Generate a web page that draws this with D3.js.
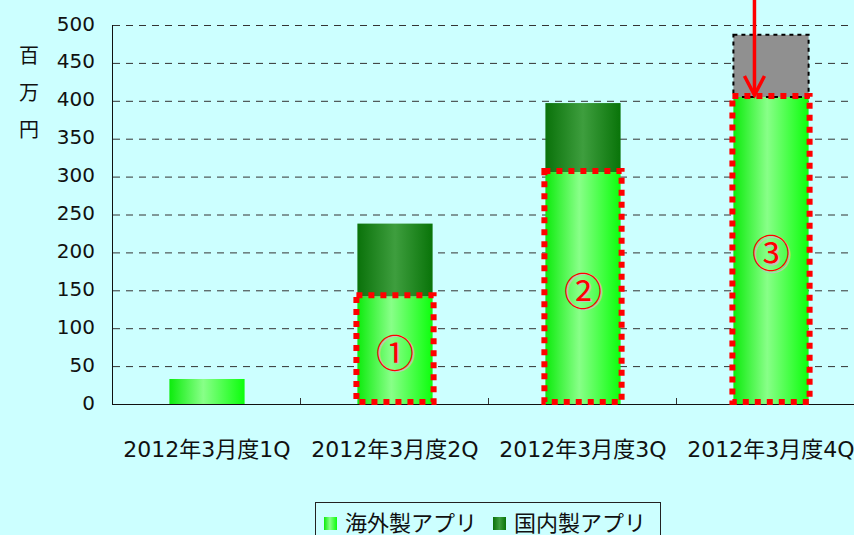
<!DOCTYPE html>
<html>
<head>
<meta charset="utf-8">
<script src="https://cdn.jsdelivr.net/npm/d3@7"></script>
<style>
  body { margin: 0; background: #ccffff; }
  svg { display: block; }
  text { font-family: "DejaVu Sans", "Noto Sans CJK JP", sans-serif; fill: #111; }
</style>
</head>
<body>
<div id="chart"></div>
<script>
var quarters = ['2012年3月度1Q', '2012年3月度2Q', '2012年3月度3Q', '2012年3月度4Q'];
var overseas = [33, 142, 306, 405];   // 海外製アプリ
var domestic = [0, 96, 91, 0];        // 国内製アプリ
var estimate = [0, 0, 0, 82];         // grey dashed box on 4Q
var marks = ['', '①', '②', '③'];
var yTicks = [0, 50, 100, 150, 200, 250, 300, 350, 400, 450, 500];
var seriesNames = ['海外製アプリ', '国内製アプリ'];

var width = 854,
    height = 535,
    svg = d3.select('#chart')
    .append('svg')
    .attr('width', width)
    .attr('height', height);

var defs = svg.append('defs');

function barGradient(id, stops) {
    var g = defs.append('linearGradient')
        .attr('id', id)
        .attr('x1', '0%').attr('x2', '100%')
        .attr('y1', '0%').attr('y2', '0%');
    stops.forEach(function(s) {
        g.append('stop').attr('offset', s[0]).attr('stop-color', s[1]);
    });
}
barGradient('grad-overseas', [['0%', '#0cec0c'], ['45%', '#88ff88'], ['100%', '#0cff0c']]);
barGradient('grad-domestic', [['0%', '#0a720a'], ['50%', '#3e9e3e'], ['100%', '#097409']]);

svg.append('rect')
    .attr('width', width)
    .attr('height', height)
    .attr('fill', '#ccffff');

var x = d3.scaleBand()
    .domain(quarters)
    .range([113, 865])
    .paddingInner(0.6)
    .paddingOuter(0.3);

var y = d3.scaleLinear()
    .domain([0, 500])
    .range([404, 25]);

// gridlines
svg.selectAll('.grid')
    .data(yTicks.slice(1))
    .enter()
    .append('line')
    .attr('class', 'grid')
    .attr('x1', 113)
    .attr('x2', width)
    .attr('y1', function(d) { return y(d) + 0.5; })
    .attr('y2', function(d) { return y(d) + 0.5; })
    .attr('stroke', '#333')
    .attr('stroke-width', 1)
    .attr('stroke-dasharray', '7,6');

// y tick labels
svg.selectAll('.ylab')
    .data(yTicks)
    .enter()
    .append('text')
    .attr('class', 'ylab')
    .attr('x', 95)
    .attr('y', function(d) { return y(d) + 5.5; })
    .attr('text-anchor', 'end')
    .attr('font-size', '20px')
    .text(function(d) { return d; });

// y axis title, stacked vertically
svg.selectAll('.ytitle')
    .data(['百', '万', '円'])
    .enter()
    .append('text')
    .attr('class', 'ytitle')
    .attr('x', 29)
    .attr('y', function(d, i) { return 63 + i * 37; })
    .attr('text-anchor', 'middle')
    .attr('font-size', '20px')
    .text(function(d) { return d; });

// overseas bars
svg.selectAll('.bar-overseas')
    .data(quarters)
    .enter()
    .append('rect')
    .attr('class', 'bar-overseas')
    .attr('x', function(d) { return x(d); })
    .attr('width', x.bandwidth())
    .attr('y', function(d, i) { return y(overseas[i]); })
    .attr('height', function(d, i) { return y(0) - y(overseas[i]); })
    .attr('fill', 'url(#grad-overseas)');

// domestic bars stacked on top
svg.selectAll('.bar-domestic')
    .data(quarters)
    .enter()
    .append('rect')
    .attr('class', 'bar-domestic')
    .attr('x', function(d) { return x(d); })
    .attr('width', x.bandwidth())
    .attr('y', function(d, i) { return y(overseas[i] + domestic[i]); })
    .attr('height', function(d, i) { return y(overseas[i]) - y(overseas[i] + domestic[i]); })
    .attr('fill', 'url(#grad-domestic)');

// grey estimate box
svg.selectAll('.bar-estimate')
    .data(quarters.filter(function(d, i) { return estimate[i] > 0; }))
    .enter()
    .append('rect')
    .attr('class', 'bar-estimate')
    .attr('x', function(d) { return x(d); })
    .attr('width', x.bandwidth())
    .attr('y', function(d) { var i = quarters.indexOf(d); return y(overseas[i] + domestic[i] + estimate[i]); })
    .attr('height', function(d) { var i = quarters.indexOf(d); return y(overseas[i] + domestic[i]) - y(overseas[i] + domestic[i] + estimate[i]); })
    .attr('fill', '#909090')
    .attr('stroke', '#000')
    .attr('stroke-width', 2)
    .attr('stroke-dasharray', '4,4');

// axes lines
svg.append('line')
    .attr('x1', 112.5).attr('x2', 112.5)
    .attr('y1', 25).attr('y2', 404.5)
    .attr('stroke', '#111');
svg.append('line')
    .attr('x1', 112).attr('x2', width)
    .attr('y1', 404.5).attr('y2', 404.5)
    .attr('stroke', '#111');

// category boundary ticks
svg.selectAll('.xtick')
    .data(quarters.slice(1))
    .enter()
    .append('line')
    .attr('class', 'xtick')
    .attr('x1', function(d) { return x(d) - x.step() * x.paddingInner() / 2 - 0.5; })
    .attr('x2', function(d) { return x(d) - x.step() * x.paddingInner() / 2 - 0.5; })
    .attr('y1', 398)
    .attr('y2', 404)
    .attr('stroke', '#333');

// x labels
svg.selectAll('.xlab')
    .data(quarters)
    .enter()
    .append('text')
    .attr('class', 'xlab')
    .attr('x', function(d) { return x(d) + x.bandwidth() / 2; })
    .attr('y', 457)
    .attr('text-anchor', 'middle')
    .attr('font-size', '22px')
    .text(function(d) { return d; });

// red dotted highlight boxes
var marked = quarters.filter(function(d, i) { return marks[i] !== ''; });
svg.selectAll('.hl')
    .data(marked)
    .enter()
    .append('rect')
    .attr('class', 'hl')
    .attr('x', function(d) { return x(d) - 1; })
    .attr('width', x.bandwidth() + 2)
    .attr('y', function(d) { return y(overseas[quarters.indexOf(d)]) - 1; })
    .attr('height', function(d) { return y(0) - y(overseas[quarters.indexOf(d)]) - 1; })
    .attr('fill', 'none')
    .attr('stroke', '#ff0000')
    .attr('stroke-width', 6)
    .attr('stroke-dasharray', '6,6');

// circled numbers
svg.selectAll('.mark-shadow')
    .data(marked)
    .enter()
    .append('text')
    .attr('class', 'mark-shadow')
    .attr('x', function(d) { return x(d) + x.bandwidth() / 2 + 1.5; })
    .attr('y', function(d) { return (y(0) + y(overseas[quarters.indexOf(d)])) / 2 + 1.5; })
    .attr('text-anchor', 'middle')
    .attr('dominant-baseline', 'central')
    .attr('font-size', '38px')
    .style('font-family', '"Noto Sans CJK JP", sans-serif')
    .style('fill', '#b8c8b8')
    .text(function(d) { return marks[quarters.indexOf(d)]; });
svg.selectAll('.mark')
    .data(marked)
    .enter()
    .append('text')
    .attr('class', 'mark')
    .attr('x', function(d) { return x(d) + x.bandwidth() / 2; })
    .attr('y', function(d) { return (y(0) + y(overseas[quarters.indexOf(d)])) / 2; })
    .attr('text-anchor', 'middle')
    .attr('dominant-baseline', 'central')
    .attr('font-size', '38px')
    .style('font-family', '"Noto Sans CJK JP", sans-serif')
    .style('fill', '#ff0000')
    .text(function(d) { return marks[quarters.indexOf(d)]; });

// red arrow down onto the 4Q bar
var last = quarters[3],
    ax = x(last) + x.bandwidth() * 0.28,
    ay = y(overseas[3]) - 2;
svg.append('line')
    .attr('x1', ax).attr('x2', ax)
    .attr('y1', 0).attr('y2', ay)
    .attr('stroke', '#ff0000')
    .attr('stroke-width', 3.5);
svg.append('path')
    .attr('d', 'M' + (ax - 10) + ',' + (ay - 19) + 'L' + ax + ',' + ay + 'L' + (ax + 10) + ',' + (ay - 19))
    .attr('fill', 'none')
    .attr('stroke', '#ff0000')
    .attr('stroke-width', 3.5);

// legend
var legend = svg.append('g');
legend.append('rect')
    .attr('x', 315.5).attr('y', 502.5)
    .attr('width', 345).attr('height', 40)
    .attr('fill', '#ccffff')
    .attr('stroke', '#222');
var legendX = [324, 493];
var legendFill = ['url(#grad-overseas)', 'url(#grad-domestic)'];
legend.selectAll('.lsw')
    .data(seriesNames)
    .enter()
    .append('rect')
    .attr('class', 'lsw')
    .attr('x', function(d, i) { return legendX[i]; })
    .attr('y', 517)
    .attr('width', 13)
    .attr('height', 13)
    .attr('fill', function(d, i) { return legendFill[i]; });
legend.selectAll('.ltx')
    .data(seriesNames)
    .enter()
    .append('text')
    .attr('class', 'ltx')
    .attr('x', function(d, i) { return legendX[i] + 21; })
    .attr('y', 531)
    .attr('font-size', '22px')
    .text(function(d) { return d; });
</script>
</body>
</html>
